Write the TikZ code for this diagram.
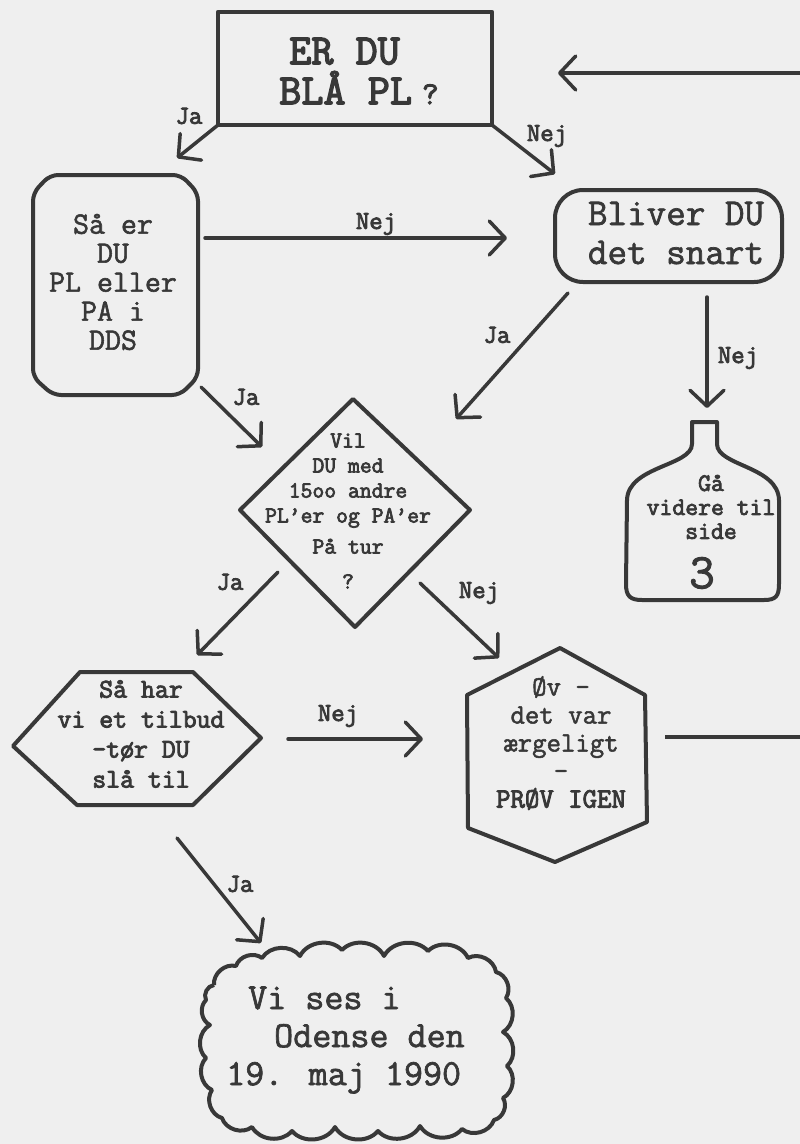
\documentclass[tikz,border=0pt]{standalone}
\usepackage{fontspec}
\newfontfamily\twr[FakeBold=1.8]{Latin Modern Mono}
\newfontfamily\twb[FakeBold=3.2]{Latin Modern Mono}
\usetikzlibrary{arrows.meta,calc}
\definecolor{ink}{HTML}{383838}
\definecolor{paper}{HTML}{EFEFEF}
\tikzset{
  shp/.style={draw=ink, line width=4pt, line join=round},
  arr/.style={draw=ink, line width=3.5pt, line cap=round,
    -{Straight Barb[length=16pt,width=34pt,round]}},
  plain/.style={draw=ink, line width=3.5pt},
  lbl/.style={text=ink, font=\twb\fontsize{26pt}{26pt}\selectfont, inner sep=0pt},
  txt/.style={text=ink, align=center, inner sep=0pt},
}
\begin{document}
\begin{tikzpicture}[x=1pt,y=-1pt]
\fill[paper] (0,0) rectangle (800,1144);
\useasboundingbox (0,0) rectangle (800,1144);

% ---------- shapes ----------
% top question box
\draw[shp, line width=4.5pt] (218,12) rectangle (492,125);
\node[txt, align=left, anchor=west, font=\twb\fontsize{43pt}{40pt}\selectfont] (q1) at (279,71)
  {\hspace*{10pt}ER DU\\BLÅ PL\hspace{10pt}{\fontsize{32pt}{32pt}\selectfont ?}};

% left rounded box
\draw[shp, rounded corners=8pt] (50,175) -- (181,175) -- (198,193) -- (198,377) -- (180,395)
  -- (53,395) -- (33,377) -- (33,193) -- cycle;
\node[txt, font=\twr\fontsize{31pt}{29pt}\selectfont] (sa) at (113,282)
  {Så er\\DU\\PL eller\\PA i\\DDS};

% right rounded box
\draw[shp, rounded corners=28pt] (555,190) rectangle (782,282);
\node[txt, font=\twr\fontsize{38pt}{39pt}\selectfont] (bl) at (676,233)
  {Bliver DU\\det snart};

% diamond
\draw[shp] (353,399) -- (470,510) -- (355,627) -- (240,510) -- cycle;
\node[txt, font=\twb\fontsize{23pt}{25pt}\selectfont] (vil) at (348,511)
  {Vil\\DU med\\15oo andre\\PL’er og PA’er\\[6pt]På tur\\[10pt]?};

% bottle
\draw[shp] (692,422) -- (692,444) .. controls (692,466) and (628,466) .. (627,500)
  -- (626,584) .. controls (626,596) and (630,600) .. (642,600) -- (764,600)
  .. controls (776,600) and (779,596) .. (779,584) -- (779,500)
  .. controls (778,466) and (717,466) .. (717,444) -- (717,422) -- cycle;
\node[txt, font=\twb\fontsize{25pt}{24pt}\selectfont] (ga) at (711,507)
  {Gå\\videre til\\side};
\node[txt, font=\twr\fontsize{50pt}{50pt}\selectfont] (tre) at (702,573) {3};

% left hexagon
\draw[shp] (80,672) -- (193,672) -- (261,738) -- (193,805) -- (77,805) -- (13,746) -- cycle;
\node[txt, font=\twb\fontsize{27pt}{30pt}\selectfont] (sh) at (141,734)
  {Så har\\vi et tilbud\\-tør DU\\slå til};

% right hexagon
\draw[shp] (560,648) -- (645,695) -- (647,822) -- (555,862) -- (468,828) -- (467,695) -- cycle;
\node[txt, font=\twr\fontsize{28pt}{28pt}\selectfont] (ov) at (561,743)
  {Øv -\\det var\\ærgeligt\\-\\{\twb PRØV IGEN}};

% cloud
\draw[shp] (214,985) to[bend left=55] (236,966) to[bend left=55] (262,958)
  to[bend left=55] (300,956) to[bend left=55] (342,950) to[bend left=55] (384,956)
  to[bend left=55] (428,951) to[bend left=55] (468,958) to[bend left=55] (496,972)
  to[bend left=55] (506,998) to[bend left=55] (503,1032) to[bend left=55] (507,1066)
  to[bend left=55] (503,1098) to[bend left=55] (494,1120) to[bend left=55] (462,1129)
  to[bend left=55] (420,1126) to[bend left=55] (378,1131) to[bend left=55] (335,1127)
  to[bend left=55] (292,1131) to[bend left=55] (252,1127) to[bend left=55] (222,1118)
  to[bend left=55] (212,1090) to[bend left=55] (206,1058) to[bend left=55] (210,1025)
  to[bend left=55] (206,1000) to[bend left=55] (214,985);
\node[txt, align=left, anchor=west, font=\twr\fontsize{37pt}{38pt}\selectfont] (vi) at (226,1040)
  {\hspace*{22pt}Vi ses i\\\hspace*{48pt}Odense den\\19. maj 1990};

% ---------- connector end points ----------
\coordinate (inS) at (800,73);   \coordinate (inE) at (558,73);
\coordinate (aS) at (218,125);   \coordinate (aE) at (177,158);
\coordinate (bS) at (492,125);   \coordinate (bE) at (555,174);
\coordinate (cS) at (205,238);   \coordinate (cE) at (507,238);
\coordinate (dS) at (568,293);   \coordinate (dE) at (456,419);
\coordinate (eS) at (707,297);   \coordinate (eE) at (707,408);
\coordinate (fS) at (201,387);   \coordinate (fE) at (262,447);
\coordinate (gS) at (278,572);   \coordinate (gE) at (197,655);
\coordinate (hS) at (420,583);   \coordinate (hE) at (499,658);
\coordinate (iS) at (288,739);   \coordinate (iE) at (423,739);
\coordinate (jS) at (177,838);   \coordinate (jE) at (261,943);
\coordinate (kS) at (665,737);   \coordinate (kE) at (800,737);

\draw[arr] (inS) -- (inE);
\draw[arr] (aS) -- (aE);
\draw[arr] (bS) -- (bE);
\draw[arr] (cS) -- (cE);
\draw[arr] (dS) -- (dE);
\draw[arr] (eS) -- (eE);
\draw[arr] (fS) -- (fE);
\draw[arr] (gS) -- (gE);
\draw[arr] (hS) -- (hE);
\draw[arr] (iS) -- (iE);
\draw[arr] (jS) -- (jE);
\draw[plain] (kS) -- (kE);

% ---------- labels ----------
\node[lbl] (l1) at (189,116) {Ja};
\node[lbl] (l2) at (547,136) {Nej};
\node[lbl] (l3) at (376,224) {Nej};
\node[lbl] (l4) at (497,335) {Ja};
\node[lbl] (l5) at (738,358) {Nej};
\node[lbl] (l6) at (246,397) {Ja};
\node[lbl] (l7) at (230,582) {Ja};
\node[lbl] (l8) at (479,593) {Nej};
\node[lbl] (l9) at (338,716) {Nej};
\node[lbl] (l10) at (240,884) {Ja};
\end{tikzpicture}
\end{document}
